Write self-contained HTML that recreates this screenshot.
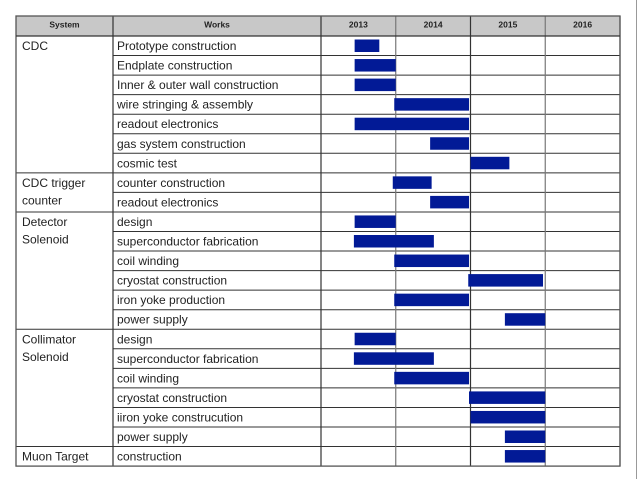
<!DOCTYPE html>
<html><head><meta charset="utf-8"><style>
html,body{margin:0;padding:0;background:#fff;width:640px;height:479px;overflow:hidden}
svg{display:block;font-family:"Liberation Sans",sans-serif}
</style></head><body>
<svg id="chart" width="640" height="479" viewBox="0 0 640 479" xmlns="http://www.w3.org/2000/svg">
<line x1="636.5" y1="0" x2="636.5" y2="479" stroke="#999" stroke-width="1"/>
<g id="grid"></g><g id="bars"></g><g id="labels"></g>
</svg>
<script>
const years = ["2013","2014","2015","2016"];
const groups = ["CDC","CDC trigger|counter","Detector|Solenoid","Collimator|Solenoid","Muon Target"];
const groupSizes = [7,2,6,6,1];
const tasks = ["Prototype construction","Endplate construction","Inner & outer wall construction","wire stringing & assembly","readout electronics","gas system construction","cosmic test","counter construction","readout electronics","design","superconductor fabrication","coil winding","cryostat construction","iron yoke production","power supply","design","superconductor fabrication","coil winding","cryostat construction","iiron yoke construcution","power supply","construction"];
const starts = [2013.45,2013.45,2013.45,2013.98,2013.45,2014.46,2015.0,2013.96,2014.46,2013.45,2013.44,2013.98,2014.97,2013.98,2015.46,2013.45,2013.44,2013.98,2014.98,2015.0,2015.46,2015.46];
const ends = [2013.78,2014.0,2014.0,2014.98,2014.98,2014.98,2015.52,2014.48,2014.98,2014.0,2014.51,2014.98,2015.97,2014.98,2016.0,2014.0,2014.51,2014.98,2016.0,2016.0,2016.0,2016.0];

const NS="http://www.w3.org/2000/svg";
const L=16,C1=113,C2=321,R=620,TOP=16,HB=36,RH=19.55;
const YW=(R-C2)/years.length;
const xs=v=>C2+(v-2013)*YW;
const ys=i=>HB+i*RH;
const BOT=ys(tasks.length);
function mk(tag,attrs,parent){const e=document.createElementNS(NS,tag);for(const k in attrs)e.setAttribute(k,attrs[k]);parent.appendChild(e);return e;}
const grid=document.getElementById('grid'),bars=document.getElementById('bars'),labels=document.getElementById('labels');
// header
const hb=mk('rect',{x:L,y:TOP,width:R-L,height:HB-TOP,fill:'#c8c8c8'},grid);


function hdr(t,cx,name){const e=mk('text',{x:cx,y:27.5,'font-size':'8.5','font-weight':'bold','text-anchor':'middle',fill:'#222'},labels);e.textContent=t;

}
hdr('System',(L+C1)/2,'system-header');hdr('Works',(C1+C2)/2,'works-header');
years.forEach((y,i)=>hdr(y,C2+YW*(i+0.5),'year-header-'+y));
// horizontal lines in works & timeline
for(let i=1;i<tasks.length;i++){const l=mk('line',{x1:C1,x2:R,y1:ys(i),y2:ys(i),stroke:'#333','stroke-width':1},grid);

}
// group lines & labels
let r=0;
groups.forEach((g,gi)=>{
  if(gi>0){const l=mk('line',{x1:L,x2:C1,y1:ys(r),y2:ys(r),stroke:'#333','stroke-width':1},grid);
  
  }
  g.split('|').forEach((p,k)=>{const t=mk('text',{x:L+6,y:ys(r)+14+k*17.5,'font-size':'12',fill:'#222'},labels);t.textContent=p;
  
  });
  r+=groupSizes[gi];
});
// verticals
[C1,C2].concat(years.map((y,i)=>C2+YW*(i+1))).forEach((x,i)=>{const l=mk('line',{x1:x,x2:x,y1:TOP,y2:BOT,stroke:i===0||i===1||i===3?'#333':'#777','stroke-width':1.2},grid);

});
const fr=mk('rect',{x:L,y:TOP,width:R-L,height:BOT-TOP,fill:'none',stroke:'#555','stroke-width':1.3},grid);


const hl=mk('line',{x1:L,x2:R,y1:HB,y2:HB,stroke:'#333','stroke-width':1.2},grid);


// tasks & bars
tasks.forEach((t,i)=>{
  const tx=mk('text',{x:C1+4,y:ys(i)+14,'font-size':'12',fill:'#222'},labels);tx.textContent=t;
  
  
  const b=mk('rect',{x:xs(starts[i]),y:ys(i)+3.5,width:xs(ends[i])-xs(starts[i]),height:12.5,fill:'#021a96'},bars);
  
  
});
</script>
</body></html>
